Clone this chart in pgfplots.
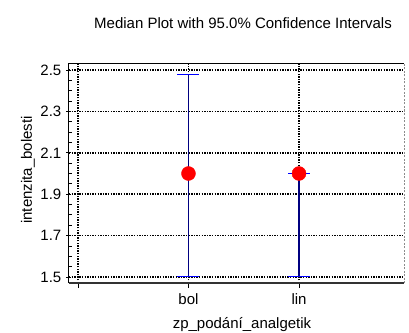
\documentclass[border=0pt]{standalone}
\usepackage{fontspec}
\setmainfont{Liberation Sans}
\usepackage{pgfplots}
\pgfplotsset{compat=1.18}
\definecolor{navy}{RGB}{0,0,128}
\begin{document}
\fontsize{15bp}{18bp}\selectfont
\begin{tikzpicture}[x=1bp,y=1bp]
\path[use as bounding box] (-69,-50) rectangle (340,283);
\begin{axis}[at={(0,0)}, anchor=south west, scale only axis,
  width=335bp, height=219bp,
  xmin=-0.081, xmax=2.95, ymin=1.471, ymax=2.529,
  xtick={0,1,2}, xticklabels={,bol,lin},
  ytick={1.5,1.7,1.9,2.1,2.3,2.5},
  minor ytick={1.55,1.6,1.65,1.75,1.8,1.85,1.95,2.0,2.05,2.15,2.2,2.25,2.35,2.4,2.45},
  yticklabel style={/pgf/number format/.cd, fixed, fixed zerofill, precision=1},
  /pgf/number format/assume math mode=true,
  ticklabel style={font=\fontsize{15bp}{18bp}\selectfont},
  xtick pos=bottom, ytick pos=left,
  xtick align=outside, ytick align=center,
  major tick length=5bp, minor tick length=3bp,
  minor y tick style={xshift=1.5bp},
  tick style={black, line width=0.8bp},
  axis line style={draw=none},
  grid=major,
  major grid style={black, line width=1.5bp, dash pattern=on 1.5bp off 1.1bp},
  clip=false,
]
\addplot[draw=none, only marks, mark=*, mark size=7bp, mark options={draw=red, fill=red}] coordinates {(1,2) (2,2)};
\addplot[draw=none, mark=none, forget plot,
  error bars/.cd, y dir=both, y explicit,
  error bar style={draw=navy, line width=1.4bp, solid},
  error mark options={rotate=90, mark size=11bp, draw=blue, line width=1bp}]
  table[x=x, y=y, y error plus=ep, y error minus=em] {
x y ep em
1 2 0.476 0.5
2 2 0 0.5
};
\draw[black, line width=1bp] (rel axis cs:0,0) -- (rel axis cs:0,1) -- (rel axis cs:1,1);
\draw[black!80, line width=1.2bp] (rel axis cs:0,0) -- (rel axis cs:1,0);
\draw[black!45, line width=0.8bp, dash pattern=on 2bp off 1.5bp] (rel axis cs:1,0) -- (rel axis cs:1,1);
\end{axis}
\node[anchor=center] at (174,260) {Median Plot with 95.0\% Confidence Intervals};
\node[anchor=base] at (173,-45.5) {zp\_podání\_analgetik};
\node[anchor=center, rotate=90] at (-41,113) {intenzita\_bolesti};
\end{tikzpicture}
\end{document}
